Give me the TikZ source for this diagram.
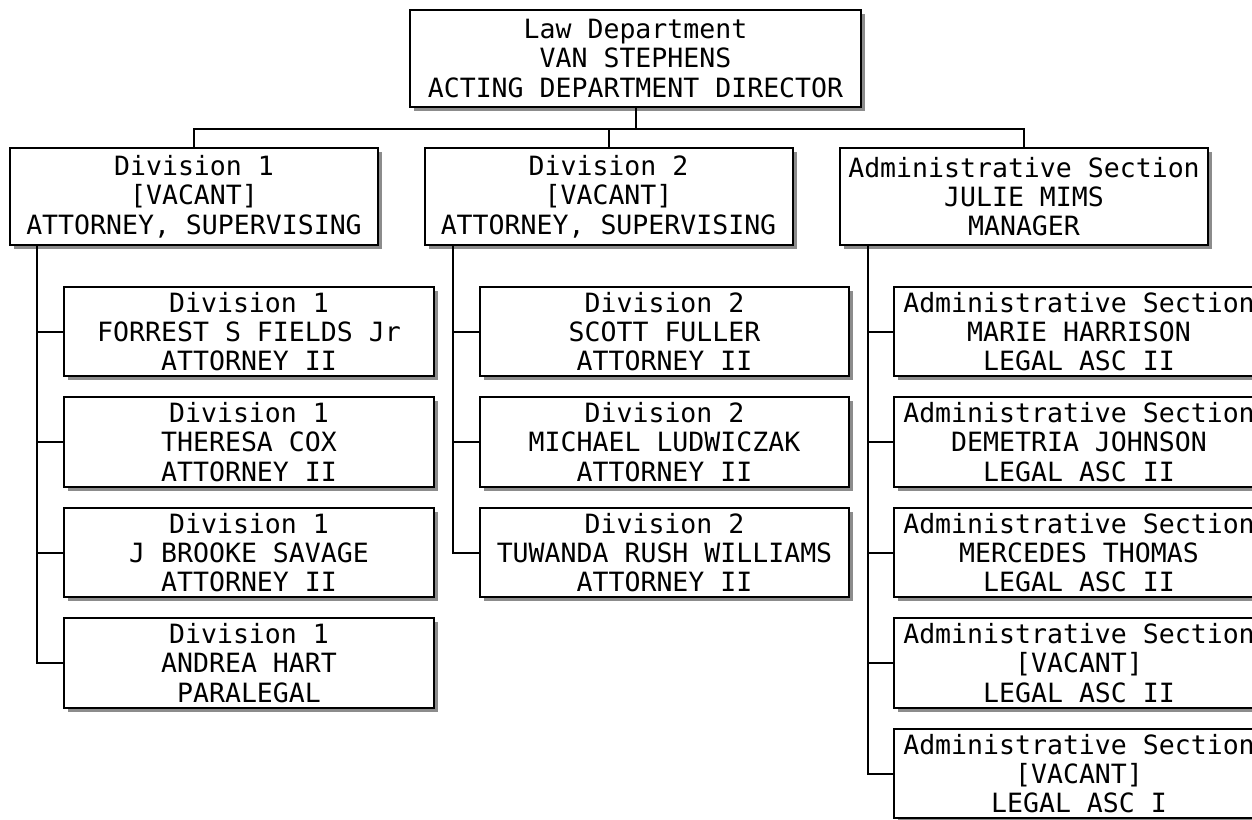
\documentclass[tikz,border=0pt]{standalone}
\usepackage{fontspec}
\setmonofont{DejaVu Sans Mono}
\usepackage{xcolor}
\usepackage{tikz}
\usetikzlibrary{shadows}
\definecolor{line}{HTML}{000000}
\definecolor{shade}{HTML}{8C8C8C}
\tikzset{
  unit/.style={draw=line, fill=white, line width=1.5pt, align=center,
    font=\ttfamily\fontsize{19.9}{22}\selectfont, inner sep=0pt,
    drop shadow={shadow xshift=3pt, shadow yshift=-3pt, fill=shade, opacity=1}},
  head/.style={unit, minimum width=338pt, minimum height=73pt},
  chief/.style={unit, minimum width=276pt, minimum height=73pt},
  staff/.style={unit, minimum width=277pt, minimum height=67pt},
  conn/.style={draw=line, line width=1.5pt},
}

\begin{document}
\begin{tikzpicture}[x=0.75pt,y=-0.75pt]
  \useasboundingbox (0,0) rectangle (1252,819);

  \node[head] (dept) at (635.5,58.5) {Law Department\\VAN STEPHENS\\ACTING DEPARTMENT DIRECTOR};

  \node[chief] (div1) at (194,196.5) {Division 1\\{[VACANT]}\\ATTORNEY, SUPERVISING};
  \node[chief] (div2) at (608.5,196.5) {Division 2\\{[VACANT]}\\ATTORNEY, SUPERVISING};
  \node[chief] (adm) at (1024,196.5) {Administrative Section\\JULIE MIMS\\MANAGER};

  \node[staff] (d1a) at (249,331.5) {Division 1\\FORREST S FIELDS Jr\\ATTORNEY II};
  \node[staff] (d1b) at (249,442) {Division 1\\THERESA COX\\ATTORNEY II};
  \node[staff] (d1c) at (249,552.5) {Division 1\\J BROOKE SAVAGE\\ATTORNEY II};
  \node[staff] (d1d) at (249,663) {Division 1\\ANDREA HART\\PARALEGAL};

  \node[staff] (d2a) at (664.5,331.5) {Division 2\\SCOTT FULLER\\ATTORNEY II};
  \node[staff] (d2b) at (664.5,442) {Division 2\\MICHAEL LUDWICZAK\\ATTORNEY II};
  \node[staff] (d2c) at (664.5,552.5) {Division 2\\TUWANDA RUSH WILLIAMS\\ATTORNEY II};

  \node[staff] (ada) at (1079,331.5) {Administrative Section\\MARIE HARRISON\\LEGAL ASC II};
  \node[staff] (adb) at (1079,442) {Administrative Section\\DEMETRIA JOHNSON\\LEGAL ASC II};
  \node[staff] (adc) at (1079,552.5) {Administrative Section\\MERCEDES THOMAS\\LEGAL ASC II};
  \node[staff] (add) at (1079,663) {Administrative Section\\{[VACANT]}\\LEGAL ASC II};
  \node[staff] (ade) at (1079,773.5) {Administrative Section\\{[VACANT]}\\LEGAL ASC I};

  % top level
  \draw[conn] (dept.south) -- ++(0,21) coordinate (bus);
  \draw[conn] (div1.north) |- (bus) -| (adm.north);
  \draw[conn] (div2.north) -- (div2.north |- bus);

  % trunks
  \coordinate (t1) at ([xshift=21pt]div1.south west);
  \coordinate (t2) at ([xshift=22pt]div2.south west);
  \coordinate (t3) at ([xshift=22pt]adm.south west);
  \foreach \c in {d1a,d1b,d1c,d1d} \draw[conn] (t1) |- (\c.west);
  \foreach \c in {d2a,d2b,d2c} \draw[conn] (t2) |- (\c.west);
  \foreach \c in {ada,adb,adc,add,ade} \draw[conn] (t3) |- (\c.west);
\end{tikzpicture}
\end{document}
